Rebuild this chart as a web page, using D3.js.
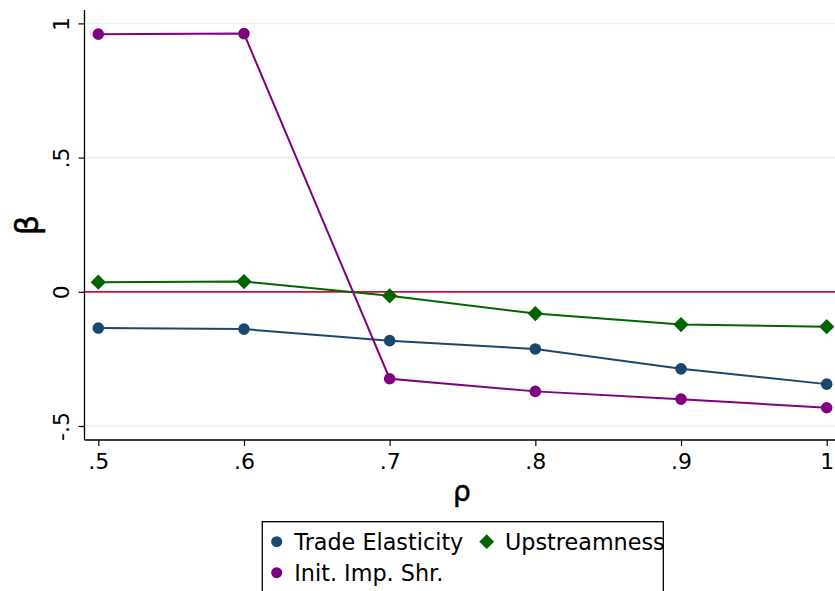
<!DOCTYPE html>
<html><head><meta charset="utf-8">
<script src="https://cdn.jsdelivr.net/npm/d3@7"></script>
<style>body{margin:0;background:#fff}svg{display:block}text{font-family:"DejaVu Sans",sans-serif}</style>
</head><body><div id="chart"></div>
<script>
const rho = [0.5, 0.6, 0.7, 0.8, 0.9, 1.0];
const tradeElasticity = [-0.135, -0.139, -0.182, -0.213, -0.287, -0.344];
const upstreamness = [0.036, 0.038, -0.015, -0.081, -0.122, -0.130];
const initImpShr = [0.960, 0.962, -0.324, -0.371, -0.400, -0.432];
const xTicks = [0.5, 0.6, 0.7, 0.8, 0.9, 1.0];
const xTickLabels = [".5", ".6", ".7", ".8", ".9", "1"];
const yTicks = [-0.5, 0, 0.5, 1];
const yTickLabels = ["-.5", "0", ".5", "1"];
const seriesNames = ["Trade Elasticity", "Upstreamness", "Init. Imp. Shr."];

const W = 835, H = 591;
const svg = d3.select("#chart").append("svg").attr("width", W).attr("height", H);
const x = d3.scaleLinear().domain([0.5, 1]).range([98.3, 826.7]);
const y = d3.scaleLinear().domain([-0.5, 1]).range([426, 23.4]);
const pL = 84.5, pR = 835, pT = 10, pB = 440;

// gridlines
svg.append("g").selectAll("line").data(yTicks).join("line")
  .attr("x1", pL).attr("x2", pR).attr("y1", d => y(d)).attr("y2", d => y(d))
  .attr("stroke", "#eaf2f3").attr("stroke-width", 1.5);

// zero reference line
svg.append("line").attr("x1", pL).attr("x2", pR).attr("y1", y(0)).attr("y2", y(0))
  .attr("stroke", "#c8103c").attr("stroke-width", 1.8);

// axes
const yAxis = d3.axisLeft(y).tickValues(yTicks).tickFormat((d, i) => yTickLabels[i]).tickSize(6).tickPadding(5);
const gy = svg.append("g").attr("transform", `translate(${pL},0)`).call(yAxis);
gy.select(".domain").attr("d", `M0,${pT}V${pB}`).attr("stroke", "#000").attr("stroke-width", 1.3);
gy.selectAll(".tick line").attr("stroke", "#000").attr("stroke-width", 1.2);
gy.selectAll(".tick text").attr("font-size", 22).attr("fill", "#000")
  .attr("text-anchor", "middle").attr("x", 0).attr("dy", 0)
  .attr("transform", "translate(-23,0) rotate(-90)")
  .attr("dominant-baseline", "central");

const xAxis = d3.axisBottom(x).tickValues(xTicks).tickFormat((d, i) => xTickLabels[i]).tickSize(6).tickPadding(7);
const gx = svg.append("g").attr("transform", `translate(0,${pB})`).call(xAxis);
gx.select(".domain").attr("d", `M${pL},0H${pR}`).attr("stroke", "#000").attr("stroke-width", 1.3);
gx.selectAll(".tick line").attr("stroke", "#000").attr("stroke-width", 1.2);
gx.selectAll(".tick text").attr("font-size", 22).attr("fill", "#000");

// axis titles
svg.append("text").attr("x", 462).attr("y", 501).attr("text-anchor", "middle")
  .attr("font-size", 28).attr("stroke", "#000").attr("stroke-width", 0.5).text("ρ");
svg.append("text").attr("transform", "translate(38,225) rotate(-90)").attr("text-anchor", "middle")
  .attr("font-size", 32).attr("stroke", "#000").attr("stroke-width", 0.5).text("β");

const series = [
  {name: seriesNames[0], vals: tradeElasticity, color: "#1a476f", sym: "circle"},
  {name: seriesNames[1], vals: upstreamness, color: "#006400", sym: "diamond"},
  {name: seriesNames[2], vals: initImpShr, color: "#800080", sym: "circle"}
];
const line = d3.line().x((d, i) => x(rho[i])).y(d => y(d));
const symCircle = d3.symbol().type(d3.symbolCircle).size(Math.PI * 5.8 * 5.8);
const symDiamond = d3.symbol().type(d3.symbolSquare).size(10.8 * 10.8);

series.forEach(s => {
  svg.append("path").attr("d", line(s.vals)).attr("fill", "none")
    .attr("stroke", s.color).attr("stroke-width", 2);
  svg.append("g").selectAll("path").data(s.vals).join("path")
    .attr("d", s.sym === "circle" ? symCircle() : symDiamond())
    .attr("transform", (d, i) => `translate(${x(rho[i])},${y(d)})` + (s.sym === "diamond" ? " rotate(45)" : ""))
    .attr("fill", s.color);
});

// legend
const lg = svg.append("g");
lg.append("rect").attr("x", 262.3).attr("y", 521.7).attr("width", 401).attr("height", 80)
  .attr("fill", "#fff").attr("stroke", "#000").attr("stroke-width", 1.3);
const legItems = [
  {s: series[0], mx: 276.7, my: 541.7, tx: 294.3},
  {s: series[1], mx: 486.7, my: 541.7, tx: 505},
  {s: series[2], mx: 276.7, my: 572.7, tx: 294.3}
];
legItems.forEach(it => {
  lg.append("path")
    .attr("d", it.s.sym === "circle" ? d3.symbol().type(d3.symbolCircle).size(Math.PI*5.5*5.5)() : d3.symbol().type(d3.symbolSquare).size(10.5*10.5)())
    .attr("transform", `translate(${it.mx},${it.my})` + (it.s.sym === "diamond" ? " rotate(45)" : ""))
    .attr("fill", it.s.color);
  lg.append("text").attr("x", it.tx).attr("y", it.my).attr("dominant-baseline", "central")
    .attr("font-size", 22.3).attr("fill", "#000").text(it.s.name);
});
</script></body></html>
